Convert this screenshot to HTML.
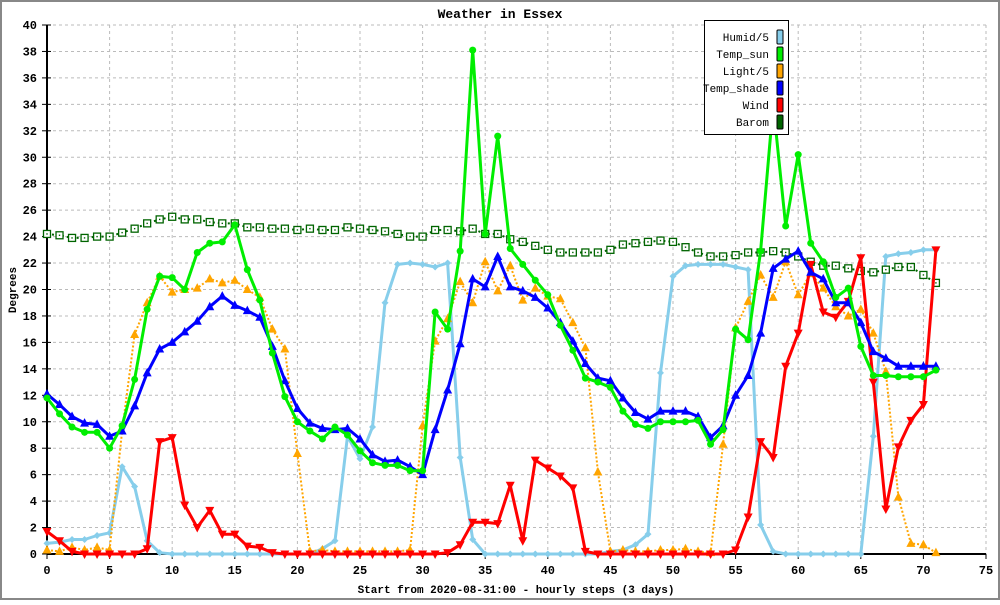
<!DOCTYPE html>
<html><head><meta charset="utf-8"><style>
body{margin:0;background:#fff;}
svg text{font-family:"Liberation Mono","DejaVu Sans Mono",monospace;}
</style></head><body>
<svg id="chart" width="1000" height="600" xmlns="http://www.w3.org/2000/svg">
<rect x="1" y="1" width="998" height="598" fill="#fff" stroke="#888" stroke-width="2"/>
<text x="500" y="18" text-anchor="middle" font-size="13" font-weight="bold">Weather in Essex</text>
<text x="16" y="290" text-anchor="middle" font-size="11" font-weight="bold" transform="rotate(-90 16 290)">Degrees</text>
<text x="516" y="593" text-anchor="middle" font-size="11" font-weight="bold">Start from 2020-08-31:00 - hourly steps (3 days)</text>
<g id="grid"></g><g id="axes"></g><g id="series"></g>
<g>
<rect x="704.5" y="20.5" width="84" height="114" fill="#fff" stroke="#000"/>
<g id="legend-items"></g>
</g>
</svg>
<script>
const xTicks=[0,5,10,15,20,25,30,35,40,45,50,55,60,65,70,75];
const yTicks=[0,2,4,6,8,10,12,14,16,18,20,22,24,26,28,30,32,34,36,38,40];
const seriesNames=["Humid/5","Temp_sun","Light/5","Temp_shade","Wind","Barom"];
const humid=[0.8,0.9,1.1,1.1,1.4,1.6,6.6,5.1,1.0,0.1,0,0,0,0,0,0,0,0,0,0,0,0,0.4,1.0,8.9,7.2,9.6,19.0,21.9,22.0,21.9,21.7,22.0,7.3,1.1,0,0,0,0,0,0,0,0,0,0,0.2,0.3,0.7,1.5,13.7,21.0,21.8,21.9,21.9,21.9,21.7,21.5,2.2,0.2,0,0,0,0,0,0,0,8.9,22.5,22.7,22.8,23.0,23.0];
const tempSun=[11.8,10.6,9.6,9.2,9.2,8.0,9.7,13.2,18.5,21.0,20.9,20.0,22.8,23.5,23.6,24.9,21.5,19.2,15.2,11.9,10.0,9.3,8.7,9.6,9.0,7.8,6.9,6.7,6.7,6.3,6.3,18.3,17.0,22.9,38.1,24.2,31.6,23.1,21.9,20.7,19.6,17.3,15.4,13.3,13.0,12.6,10.8,9.8,9.5,10.0,10.0,10.0,10.1,8.3,9.4,17.0,16.2,22.9,34.0,24.8,30.2,23.5,22.1,19.4,20.1,15.7,13.5,13.5,13.4,13.4,13.4,13.9];
const light=[0.3,0.2,0.5,0.3,0.5,0.3,9.3,16.6,19.0,21.0,19.8,20.0,20.1,20.8,20.5,20.7,20.0,19.4,17.0,15.5,7.6,0.2,0.3,0.2,0.2,0.2,0.2,0.2,0.2,0.3,9.7,16.1,17.8,20.6,19.0,22.1,19.9,21.8,19.2,20.1,19.5,19.3,17.5,15.6,6.2,0.2,0.3,0.2,0.2,0.3,0.3,0.4,0.2,0.1,8.3,17.1,19.1,21.1,19.4,22.1,19.6,21.2,20.1,18.7,18.0,18.5,16.7,13.8,4.3,0.8,0.7,0.1];
const tempShade=[12.1,11.3,10.4,9.9,9.8,8.9,9.3,11.2,13.7,15.5,16.0,16.8,17.6,18.7,19.5,18.8,18.4,17.9,15.7,13.1,11.0,9.9,9.5,9.4,9.5,8.7,7.5,7.0,7.1,6.6,6.0,9.4,12.4,15.9,20.8,20.2,22.5,20.2,19.9,19.4,18.6,17.5,16.1,14.4,13.3,13.1,11.8,10.7,10.2,10.8,10.8,10.8,10.4,8.8,9.7,12.0,13.5,16.7,21.6,22.3,22.9,21.3,20.8,19.0,19.0,17.5,15.3,14.8,14.2,14.2,14.2,14.2];
const wind=[1.7,1.0,0.2,0,0,0,0,0,0.4,8.5,8.8,3.7,2.0,3.3,1.5,1.5,0.6,0.5,0.1,0,0,0,0,0,0,0,0,0,0,0,0,0,0.1,0.7,2.4,2.4,2.3,5.2,1.0,7.1,6.5,5.9,5.0,0.2,0,0,0,0,0,0,0,0,0,0,0,0.3,2.8,8.5,7.3,14.2,16.7,21.9,18.3,17.9,19.1,22.4,13.0,3.4,8.1,10.1,11.3,23.0];
const barom=[24.2,24.1,23.9,23.9,24.0,24.0,24.3,24.6,25.0,25.3,25.5,25.3,25.3,25.1,25.0,25.0,24.7,24.7,24.6,24.6,24.5,24.6,24.5,24.5,24.7,24.6,24.5,24.4,24.2,24.0,24.0,24.5,24.5,24.4,24.6,24.2,24.2,23.8,23.6,23.3,23.0,22.8,22.8,22.8,22.8,23.0,23.4,23.5,23.6,23.7,23.6,23.2,22.8,22.5,22.5,22.6,22.8,22.8,22.9,22.8,22.5,22.1,21.8,21.8,21.6,21.4,21.3,21.5,21.7,21.7,21.1,20.5];

const NS="http://www.w3.org/2000/svg";
const X0=47,X1=986,Y0=554,Y1=25;
const xs=v=>X0+(v-0)/(75-0)*(X1-X0);
const ys=v=>Y0-(v-0)/(40-0)*(Y0-Y1);
function mk(tag,attrs,parent){const e=document.createElementNS(NS,tag);for(const k in attrs)e.setAttribute(k,attrs[k]);parent.appendChild(e);return e;}
const grid=document.getElementById('grid'),axes=document.getElementById('axes'),ser=document.getElementById('series');
xTicks.forEach(t=>{
 if(t>0){const l=mk('line',{x1:xs(t),x2:xs(t),y1:Y1,y2:Y0,stroke:'#bbb','stroke-dasharray':'3,3'},grid);
 
 }
 const tk=mk('line',{x1:xs(t),x2:xs(t),y1:Y0,y2:Y0+5,stroke:'#000'},axes);
 
 
 const tx=mk('text',{x:xs(t),y:Y0+20,'text-anchor':'middle','font-size':'12','font-weight':'bold'},axes);tx.textContent=t;
 
 
});
yTicks.forEach(t=>{
 if(t>0){const l=mk('line',{x1:X0,x2:X1,y1:ys(t),y2:ys(t),stroke:'#bbb','stroke-dasharray':'3,3'},grid);
 
 }
 const tk=mk('line',{x1:X0-5,x2:X0+4,y1:ys(t),y2:ys(t),stroke:'#000'},axes);
 
 
 const tx=mk('text',{x:X0-10,y:ys(t)+4,'text-anchor':'end','font-size':'12','font-weight':'bold'},axes);tx.textContent=t;
 
 
});
const ax1=mk('line',{x1:X0,x2:X0,y1:Y1,y2:Y0,stroke:'#000','stroke-width':2},axes);


const ax2=mk('line',{x1:X0,x2:X1,y1:Y0,y2:Y0,stroke:'#000','stroke-width':2},axes);



const defs=[
 {name:'humid',data:humid,color:'#87ceeb',w:3,dash:null,m:'diamond'},
 {name:'light',data:light,color:'#ffa500',w:2,dash:'2,2',m:'tri'},
 {name:'barom',data:barom,color:'#006400',w:2,dash:'2,3',m:'square'},
 {name:'wind',data:wind,color:'#ff0000',w:3,dash:null,m:'tridown'},
 {name:'temp-shade',data:tempShade,color:'#0000ff',w:3,dash:null,m:'tri'},
 {name:'temp-sun',data:tempSun,color:'#00ee00',w:3,dash:null,m:'circle'}
];
defs.forEach(s=>{
 const g=mk('g',{},ser);
 
 
 const pts=s.data.map((v,i)=>xs(i).toFixed(1)+','+ys(v).toFixed(1)).join(' ');
 const a={points:pts,fill:'none',stroke:s.color,'stroke-width':s.w,'stroke-linejoin':'round'};
 if(s.dash)a['stroke-dasharray']=s.dash;
 const pl=mk('polyline',a,g);
 
 
 s.data.forEach((v,i)=>{
  const x=xs(i),y=ys(v);let e;
  if(s.m==='circle')e=mk('circle',{cx:x,cy:y,r:3.5,fill:s.color},g);
  else if(s.m==='tri')e=mk('polygon',{points:`${x},${y-5} ${x-4.5},${y+3.5} ${x+4.5},${y+3.5}`,fill:s.color},g);
  else if(s.m==='tridown')e=mk('polygon',{points:`${x},${y+5} ${x-4.5},${y-3.5} ${x+4.5},${y-3.5}`,fill:s.color},g);
  else if(s.m==='square'){e=mk('rect',{x:x-3.5,y:y-3.5,width:7,height:7,fill:'#fff',stroke:s.color,'stroke-width':1.3},g);mk('rect',{x:x-0.7,y:y-0.7,width:1.4,height:1.4,fill:s.color},g);}
  else e=mk('polygon',{points:`${x},${y-3.5} ${x-3.5},${y} ${x},${y+3.5} ${x+3.5},${y}`,fill:s.color},g);
  
  
 });
});
const legColors=['#87ceeb','#00ee00','#ffa500','#0000ff','#ff0000','#006400'];
const li=document.getElementById('legend-items');
seriesNames.forEach((n,i)=>{
 const y=37+i*17;
 const t=mk('text',{x:769,y:y+4,'text-anchor':'end','font-size':'11'},li);t.textContent=n;
 
 
 const r=mk('rect',{x:777,y:y-7,width:6,height:14,rx:1,fill:legColors[i],stroke:'#000','stroke-width':1},li);
 
 
});
</script>
</body></html>
